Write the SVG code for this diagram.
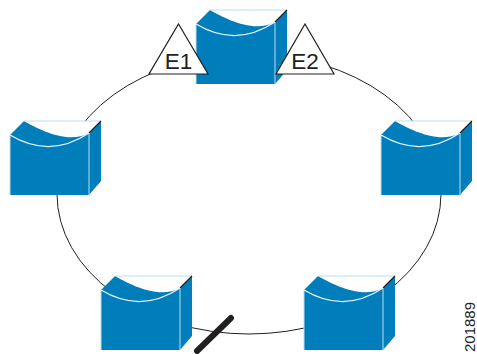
<svg xmlns="http://www.w3.org/2000/svg" width="477" height="354" viewBox="0 0 477 354">
<style>
.ring{fill:none;stroke:#231f20;stroke-width:1}
.face{fill:#007ebb}
.edge{fill:none;stroke:#b9deef;stroke-width:1}
.arc{fill:none;stroke:#e8f4fa;stroke-width:1.2}
.dark{stroke:#231f20;stroke-width:1.2;fill:none}
.tri{fill:#fff;stroke:#231f20;stroke-width:1.2;stroke-linejoin:miter}
.lbl{font-family:"Liberation Sans",Arial,sans-serif;font-size:22.5px;fill:#231f20;text-anchor:middle}
.num{font-family:"Liberation Sans",Arial,sans-serif;font-size:15px;fill:#231f20}
</style>
<defs>
<g id="cube">
<path d="M14 -14H91L79 -2C58 10 28 -6 14 -14Z" fill="#fff"/>
<path class="face" d="M0 0L14 -14C28 -6 58 10 79 -2V60H0Z"/>
<path class="face" d="M79 -2L91 -14V46L79 60Z"/>
<path class="edge" d="M14 -14H91"/>
<path class="dark" d="M79 -2L91 -14"/>
<path class="edge" d="M79 -2V60M0 0V60"/>
<path class="arc" d="M0 0Q40 24 79 -2"/>
</g>
</defs>
<g id="connectors">
<ellipse class="ring" cx="249" cy="194" rx="192" ry="140"/>
<path d="M197 351L231 318" fill="none" stroke="#231f20" stroke-width="6" stroke-linecap="round"/>
</g>
<g id="node-top"><use href="#cube" x="196" y="24"/></g>
<g id="node-left"><use href="#cube" x="10" y="135"/></g>
<g id="node-right"><use href="#cube" x="381" y="135"/></g>
<g id="node-bottom-left"><use href="#cube" x="101" y="290"/></g>
<g id="node-bottom-right"><use href="#cube" x="304" y="290"/></g>
<g id="node-e1"><path class="tri" d="M178.500 24L208 74H149Z"/><text class="lbl" x="178.500" y="69">E1</text></g>
<g id="node-e2"><path class="tri" d="M305 24L334 74H276Z"/><text class="lbl" x="305" y="69">E2</text></g>
<text class="num" transform="translate(475 352) rotate(-90)">201889</text>
</svg>
